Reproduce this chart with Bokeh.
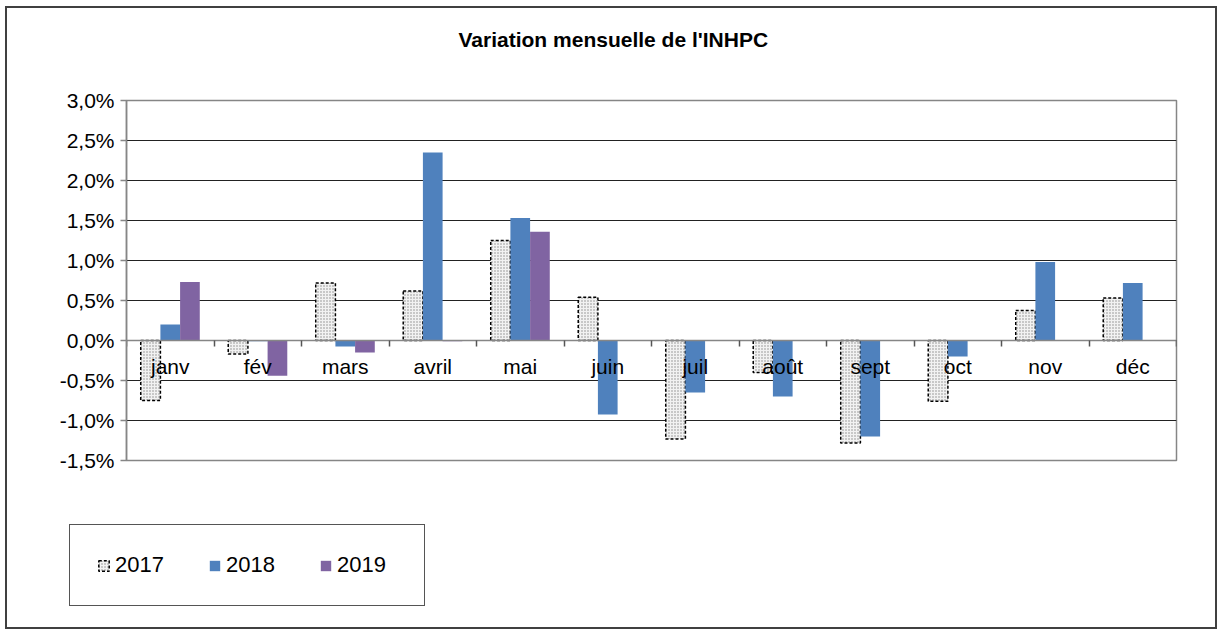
from bokeh.plotting import figure
from bokeh.layouts import column
from bokeh.models import Range1d, FixedTicker, Legend, LegendItem, ColumnDataSource, Title
from bokeh.transform import dodge
from bokeh.embed import file_html
from bokeh.resources import INLINE

NaN = float("nan")

# ---- data ----
months = ["janv", "fév", "mars", "avril", "mai", "juin",
          "juil", "août", "sept", "oct", "nov", "déc"]
v2017 = [-0.75, -0.17, 0.72, 0.62, 1.25, 0.54, -1.23, -0.40, -1.28, -0.76, 0.375, 0.53]
v2018 = [0.20, -0.01, -0.075, 2.35, 1.53, -0.925, -0.65, -0.70, -1.20, -0.20, 0.98, 0.72]
v2019 = [0.73, -0.44, -0.15, -0.01, 1.36, NaN, NaN, NaN, NaN, NaN, NaN, NaN]
series_names = ["2017", "2018", "2019"]
ytick_values = [-1.5, -1.0, -0.5, 0.0, 0.5, 1.0, 1.5, 2.0, 2.5, 3.0]
ytick_labels = ["-1,5%", "-1,0%", "-0,5%", "0,0%", "0,5%", "1,0%", "1,5%", "2,0%", "2,5%", "3,0%"]
title_text = "Variation mensuelle de l'INHPC"

FONT = "Liberation Sans"
centers = [i + 0.5 for i in range(len(months))]
bounds = list(range(len(months) + 1))

src = ColumnDataSource(dict(x=centers, m=months, a=v2017, b=v2018, c=v2019))

p = figure(width=1208, height=512, output_backend="svg", toolbar_location=None,
           x_range=Range1d(0, len(months)), y_range=Range1d(ytick_values[0], ytick_values[-1]),
           min_border_left=119, min_border_right=39, min_border_top=92, min_border_bottom=60,
           title=None)

# spacer title (closest to frame) then the real title above it
p.add_layout(Title(text=" ", text_font_size="30px", standoff=10, text_color="white"), "above")
p.add_layout(Title(text=title_text, align="left", offset=332, standoff=10,
                   text_font=FONT, text_font_size="21px", text_font_style="bold",
                   text_color="black"), "above")

p.outline_line_color = "#868686"
p.outline_line_width = 1.5
p.xgrid.visible = False
p.ygrid.ticker = FixedTicker(ticks=ytick_values)
p.ygrid.grid_line_color = "#222222"
p.ygrid.grid_line_width = 1

# y axis
ya = p.yaxis[0]
ya.ticker = FixedTicker(ticks=ytick_values)
ya.major_label_overrides = {v: t for v, t in zip(ytick_values, ytick_labels)}
ya.major_label_text_font = FONT
ya.major_label_text_font_size = "21px"
ya.major_label_text_color = "black"
ya.major_tick_out = 6
ya.major_tick_in = 0
ya.minor_tick_line_color = None
ya.axis_line_color = "#868686"
ya.axis_line_width = 1.5
ya.major_tick_line_color = "#868686"
ya.major_tick_line_width = 1.5
ya.major_label_standoff = 6

# x axis at zero: month labels at centres, boundary ticks as minor ticks
xa = p.xaxis[0]
xa.fixed_location = 0
xa.ticker = FixedTicker(ticks=centers, minor_ticks=bounds)
xa.major_label_overrides = {c: m for c, m in zip(centers, months)}
xa.major_label_text_font = FONT
xa.major_label_text_font_size = "21px"
xa.major_label_text_color = "black"
xa.major_label_standoff = 8
xa.major_tick_line_color = None
xa.minor_tick_out = 6
xa.minor_tick_in = 0
xa.minor_tick_line_color = "#555555"
xa.minor_tick_line_width = 1.5
xa.axis_line_color = "#868686"
xa.axis_line_width = 1.5

bw = 0.225
style17 = dict(fill_color="#f2f2f2", hatch_pattern="dot", hatch_color="#8a8a8a",
               hatch_scale=3, hatch_weight=1,
               line_color="black", line_dash="3 2", line_width=1.5)
style18 = dict(fill_color="#4F81BD", line_color=None)
style19 = dict(fill_color="#8064A2", line_color=None)

p.vbar(x=dodge("x", -bw), top="a", bottom=0, width=bw, source=src, **style17)
p.vbar(x=dodge("x", 0), top="b", bottom=0, width=bw, source=src, **style18)
p.vbar(x=dodge("x", bw), top="c", bottom=0, width=bw, source=src, **style19)

# legend panel below the chart
p2 = figure(width=1208, height=107, output_backend="svg", toolbar_location=None,
            x_range=Range1d(0, 1), y_range=Range1d(0, 1),
            x_axis_location=None, y_axis_location=None,
            min_border_left=0, min_border_right=0, min_border_top=0, min_border_bottom=0)
p2.outline_line_color = None
p2.grid.visible = False
legend_x = -57
props = p2.properties()
if "frame_align" in props:
    p2.frame_align = False
    p.frame_align = False
    legend_x = 62

lr = [p2.vbar(x=[0.5], top=[NaN], bottom=[0], width=0.1, **s) for s in (style17, style18, style19)]

legend = Legend(items=[LegendItem(label=n, renderers=[r]) for n, r in zip(series_names, lr)],
                orientation="horizontal", location=(legend_x, 21),
                border_line_color="#555555", border_line_width=1.5, border_line_alpha=1.0,
                padding=27, spacing=33, glyph_width=13, glyph_height=13,
                label_text_font=FONT, label_text_font_size="22px", label_text_color="black",
                label_standoff=5, label_width=60, margin=0,
                background_fill_color="white", background_fill_alpha=1.0)
p2.add_layout(legend, "center")

layout = column(p, p2, spacing=0, margin=(8, 0, 0, 7),
                styles={"outline": "2px solid #404040"})

open("out.html", "w").write(file_html(layout, INLINE))
